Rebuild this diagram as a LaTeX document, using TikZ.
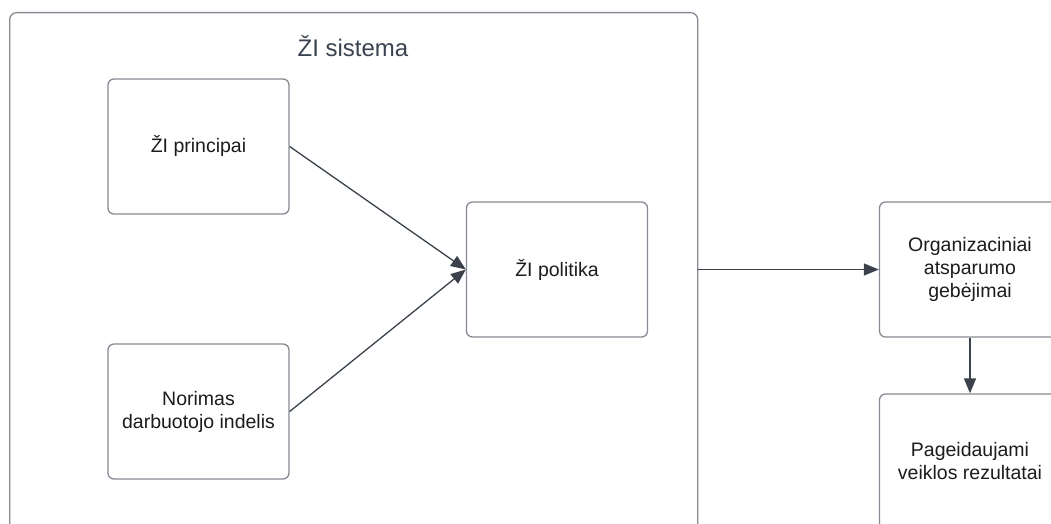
\documentclass[tikz,border=0pt]{standalone}
\usepackage{fontspec}
\setmainfont{Liberation Sans}
\usetikzlibrary{arrows.meta}
\definecolor{boxline}{HTML}{868B93}
\definecolor{arrowline}{HTML}{3B424C}
\definecolor{titletext}{HTML}{3A4350}
\definecolor{bodytext}{HTML}{1C1C1C}
\begin{document}
\begin{tikzpicture}[x=1pt,y=-1pt,
  box/.style={draw=boxline, line width=1.3pt, rounded corners=6pt, fill=white,
    minimum width=181pt, minimum height=135pt, inner sep=0pt,
    align=center, text=bodytext,
    font=\fontsize{19.5}{23}\selectfont},
  frame/.style={draw=boxline, line width=1.3pt, rounded corners=7pt,
    minimum width=688pt, minimum height=540pt, inner sep=0pt, anchor=north west},
  link/.style={draw=arrowline, line width=1.3pt,
    -{Triangle[length=15pt,width=12pt]}}]
\useasboundingbox (0,0) rectangle (1051,524);
\clip (0,0) rectangle (1051,524);
\fill[white] (0,0) rectangle (1051,524);

% system frame and its title
\node[frame] (sys) at (9,12) {};
\node[text=titletext, font=\fontsize{24}{28}\selectfont] (title) at (353,46) {ŽI sistema};

% inner boxes
\node[box] (prin) at (198.5,146.5) {ŽI principai};
\node[box] (nor) at (198.5,411.5) {Norimas\\darbuotojo indelis};
\node[box] (pol) at (557,269.5) {ŽI politika};

% outcome boxes
\node[box] (org) at (970,269.5) {Organizaciniai\\atsparumo\\gebėjimai};
\node[box] (res) at (970,461.5) {Pageidaujami\\veiklos rezultatai};

% connectors
\draw[link] (prin.east) -- (pol.west);
\draw[link] (nor.east) -- (pol.west);
\draw[link] (sys.east |- org.west) -- (org.west);
\draw[link] (org.south) -- (res.north);
\end{tikzpicture}
\end{document}
